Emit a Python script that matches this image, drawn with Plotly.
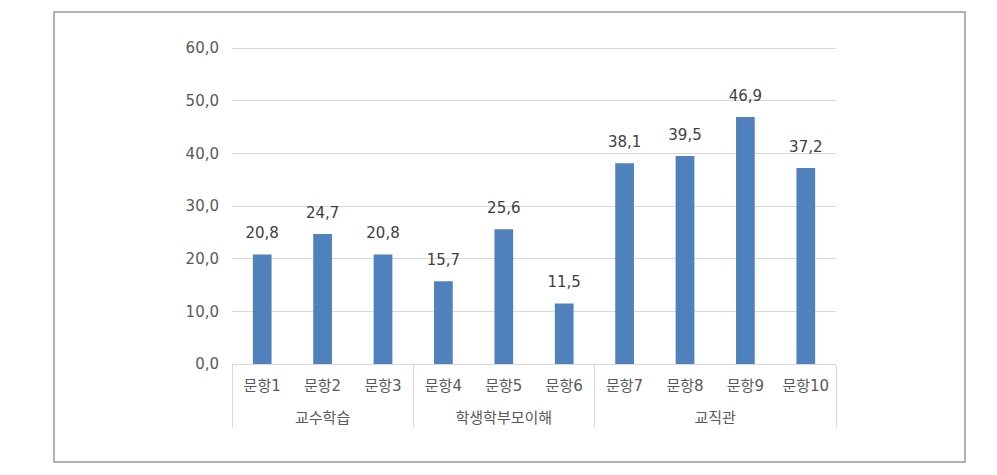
import plotly.graph_objects as go

groups = ["교수학습"] * 3 + ["학생학부모이해"] * 3 + ["교직관"] * 4
items = ["문항1", "문항2", "문항3", "문항4", "문항5", "문항6", "문항7", "문항8", "문항9", "문항10"]
values = [20.8, 24.7, 20.8, 15.7, 25.6, 11.5, 38.1, 39.5, 46.9, 37.2]
yticks = [0, 10, 20, 30, 40, 50, 60]

FONT = "DejaVu Sans, Noto Sans CJK KR"
TXT = "#595959"

item_labels = [s + "<br> " for s in items]
xcats = [groups, item_labels]

fig = go.Figure()
fig.add_trace(go.Bar(
    x=xcats,
    y=values,
    marker=dict(color="#4F81BD", line=dict(width=0)),
    width=0.31,
    hoverinfo="skip",
))
fig.add_trace(go.Scatter(
    x=xcats,
    y=values,
    mode="markers+text",
    marker=dict(size=18, opacity=0, color="#4F81BD"),
    text=values,
    texttemplate="%{y:.1f}",
    textposition="top center",
    textfont=dict(family=FONT, size=15, color="#404040"),
    cliponaxis=False,
    hoverinfo="skip",
))

W, H = 997, 475
# plot area: x 232..836, zero line at y=364, 60 at y=48
px_per_unit = (364 - 48) / 60
T = 43
B = H - 364
L, R = 232, 161
pw, ph = W - L - R, H - T - B
ymax = ph / px_per_unit

fig.update_layout(
    width=W, height=H,
    margin=dict(l=L, r=R, t=T, b=B),
    paper_bgcolor="white",
    plot_bgcolor="white",
    separators=",.",
    showlegend=False,
    font=dict(family=FONT, size=15, color=TXT),
    xaxis=dict(
        type="multicategory",
        range=[-0.5, len(items) - 0.5],
        showline=True, linecolor="#d9d9d9", linewidth=1,
        showgrid=False,
        showdividers=True, dividercolor="#d9d9d9", dividerwidth=1,
        tickfont=dict(family=FONT, size=15, color=TXT),
        ticks="",
        ticklabelstandoff=8,
    ),
    yaxis=dict(
        range=[0, ymax], tickvals=yticks, tickformat=".1f",
        showgrid=True, gridcolor="#d9d9d9", gridwidth=1,
        zeroline=False, showline=False,
        tickfont=dict(family=FONT, size=15, color=TXT),
        ticklabelstandoff=12,
    ),
    shapes=[dict(
        type="rect", xref="paper", yref="paper",
        x0=(54 - L) / pw, x1=(965 - L) / pw,
        y0=(364 - 462) / ph, y1=(364 - 12) / ph,
        line=dict(color="#999999", width=1.5),
        fillcolor="rgba(0,0,0,0)", layer="below",
    )],
)

fig.write_html("out.html")
